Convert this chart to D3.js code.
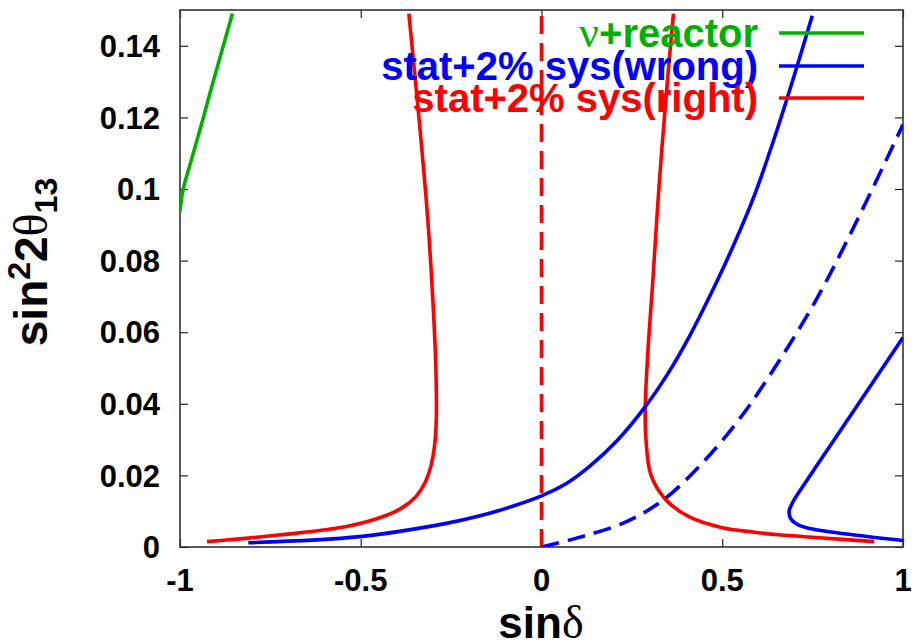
<!DOCTYPE html>
<html>
<head>
<meta charset="utf-8">
<script src="https://cdn.jsdelivr.net/npm/d3@7"></script>
<style>
  body { margin: 0; background: #fff; }
  svg text { font-family: "Liberation Sans", Arial, sans-serif; font-weight: bold; }
  .greek { font-family: "Liberation Serif", "DejaVu Serif", serif; font-weight: normal; }
</style>
</head>
<body>
<svg id="chart" width="916" height="644"></svg>
<script>
// curves: [sin delta, sin^2 2theta13]
const reactorCurve = [[-1.0, 0.0937], [-0.992, 0.0995], [-0.966, 0.109], [-0.938, 0.119],
  [-0.911, 0.129], [-0.883, 0.139], [-0.855, 0.149]];

const rightLeftBranch = [[-0.367, 0.149], [-0.340, 0.121], [-0.315, 0.092], [-0.298, 0.064],
  [-0.292, 0.049], [-0.291, 0.036], [-0.295, 0.029], [-0.305, 0.023], [-0.322, 0.018],
  [-0.348, 0.014], [-0.385, 0.011], [-0.43, 0.0088], [-0.54, 0.0057], [-0.72, 0.0034],
  [-0.925, 0.0015]];

const rightRightBranch = [[0.365, 0.149], [0.349, 0.131], [0.326, 0.102], [0.307, 0.073],
  [0.294, 0.054], [0.287, 0.039], [0.289, 0.030], [0.303, 0.020], [0.344, 0.0132],
  [0.409, 0.0084], [0.50, 0.0054], [0.584, 0.0042], [0.657, 0.0034], [0.768, 0.0026], [0.92, 0.0015]];

const rightDashed = [[0, 0], [0, 0.15]];

const wrongMain = [[-0.811, 0.0012], [-0.503, 0.0029], [-0.263, 0.0066], [-0.17, 0.0087],
  [-0.08, 0.0114], [0, 0.0143], [0.07, 0.0178], [0.133, 0.0225], [0.21, 0.0298],
  [0.287, 0.0392], [0.35, 0.0485], [0.41, 0.059], [0.47, 0.071], [0.53, 0.084],
  [0.59, 0.0985], [0.65, 0.116], [0.70, 0.132], [0.749, 0.1484]];

const wrongDashed = [[0, 0], [0.087, 0.0022], [0.229, 0.0068], [0.335, 0.013], [0.436, 0.0225],
  [0.538, 0.0345], [0.624, 0.0468], [0.754, 0.068], [0.867, 0.09], [1.0, 0.118]];

const wrongLoop = [[1.0, 0.0585], [0.92, 0.0465], [0.84, 0.0345], [0.77, 0.024], [0.72, 0.0165],
  [0.695, 0.0125], [0.685, 0.010], [0.69, 0.0078], [0.71, 0.0062], [0.75, 0.005],
  [0.86, 0.0034], [1.0, 0.0018]];

const xTicks = [-1, -0.5, 0, 0.5, 1];
const yTicks = [0, 0.02, 0.04, 0.06, 0.08, 0.1, 0.12, 0.14];
const legendNames = ["+reactor", "stat+2% sys(wrong)", "stat+2% sys(right)"];
const legendColors = ["#00b000", "#0000ff", "#ff0000"];

const svg = d3.select("#chart");
const mLeft = 180, mRight = 903, mTop = 10, mBottom = 547;

const x = d3.scaleLinear().domain([-1, 1]).range([mLeft, mRight]);
const y = d3.scaleLinear().domain([0, 0.15]).range([mBottom, mTop]);

svg.append("defs").append("clipPath").attr("id", "plotclip")
  .append("rect").attr("x", mLeft).attr("y", mTop)
  .attr("width", mRight - mLeft).attr("height", mBottom - mTop);

// axes with inward ticks on all sides
svg.append("g").attr("transform", `translate(${mLeft},0)`)
  .call(d3.axisRight(y).tickValues(yTicks).tickSize(8).tickFormat(""));
svg.append("g").attr("transform", `translate(${mRight},0)`)
  .call(d3.axisLeft(y).tickValues(yTicks).tickSize(8).tickFormat(""));
svg.append("g").attr("transform", `translate(0,${mBottom})`)
  .call(d3.axisTop(x).tickValues(xTicks).tickSize(8).tickFormat(""));
svg.append("g").attr("transform", `translate(0,${mTop})`)
  .call(d3.axisBottom(x).tickValues(xTicks).tickSize(8).tickFormat(""));
svg.selectAll(".domain").remove();
svg.selectAll(".tick line").attr("stroke", "#222").attr("stroke-width", 1.2);

svg.append("rect").attr("x", mLeft).attr("y", mTop)
  .attr("width", mRight - mLeft).attr("height", mBottom - mTop)
  .attr("fill", "none").attr("stroke", "#333").attr("stroke-width", 1.6);

svg.append("g").selectAll("text").data(yTicks).join("text")
  .attr("x", 160).attr("y", d => y(d)).attr("dy", "0.36em")
  .attr("text-anchor", "end").attr("font-size", 31)
  .text(d => String(d));

svg.append("g").selectAll("text").data(xTicks).join("text")
  .attr("x", d => x(d)).attr("y", 591)
  .attr("text-anchor", "middle").attr("font-size", 31)
  .text(d => String(d));

// axis titles
const xt = svg.append("text").attr("x", 541).attr("y", 638)
  .attr("text-anchor", "middle").attr("font-size", 44);
xt.append("tspan").text("sin");
xt.append("tspan").attr("class", "greek").attr("font-size", 46).text("δ");

const yt = svg.append("text")
  .attr("transform", "translate(47,262) rotate(-90)")
  .attr("text-anchor", "middle").attr("font-size", 46);
yt.append("tspan").text("sin");
yt.append("tspan").attr("font-size", 32).attr("dy", -17).text("2");
yt.append("tspan").attr("dy", 17).text("2");
yt.append("tspan").attr("class", "greek").attr("font-size", 48).text("θ");
yt.append("tspan").attr("font-size", 32).attr("dy", 10).text("13");

// curves
const line = d3.line().x(d => x(d[0])).y(d => y(d[1])).curve(d3.curveCatmullRom.alpha(0.5));
const plot = svg.append("g").attr("clip-path", "url(#plotclip)");
const series = [
  { data: reactorCurve, color: legendColors[0], dash: null },
  { data: rightLeftBranch, color: legendColors[2], dash: null },
  { data: rightRightBranch, color: legendColors[2], dash: null },
  { data: rightDashed, color: legendColors[2], dash: "18,9" },
  { data: wrongMain, color: legendColors[1], dash: null },
  { data: wrongDashed, color: legendColors[1], dash: "18,9" },
  { data: wrongLoop, color: legendColors[1], dash: null }
];
plot.selectAll("path").data(series).join("path")
  .attr("d", d => line(d.data))
  .attr("fill", "none")
  .attr("stroke", d => d.color)
  .attr("stroke-width", 3.6)
  .attr("stroke-dasharray", d => d.dash);

// legend
const rowY = [33, 66, 98];
const lg = svg.append("g");
legendNames.forEach((name, i) => {
  const t = lg.append("text").attr("x", 758).attr("y", rowY[i] + 14)
    .attr("text-anchor", "end").attr("font-size", 40).attr("fill", legendColors[i]);
  if (i === 0) t.append("tspan").attr("class", "greek").attr("font-size", 44).text("ν");
  t.append("tspan").text(name);
  lg.append("line").attr("x1", 779).attr("x2", 864)
    .attr("y1", rowY[i]).attr("y2", rowY[i])
    .attr("stroke", legendColors[i]).attr("stroke-width", 3.6);
});
</script>
</body>
</html>
